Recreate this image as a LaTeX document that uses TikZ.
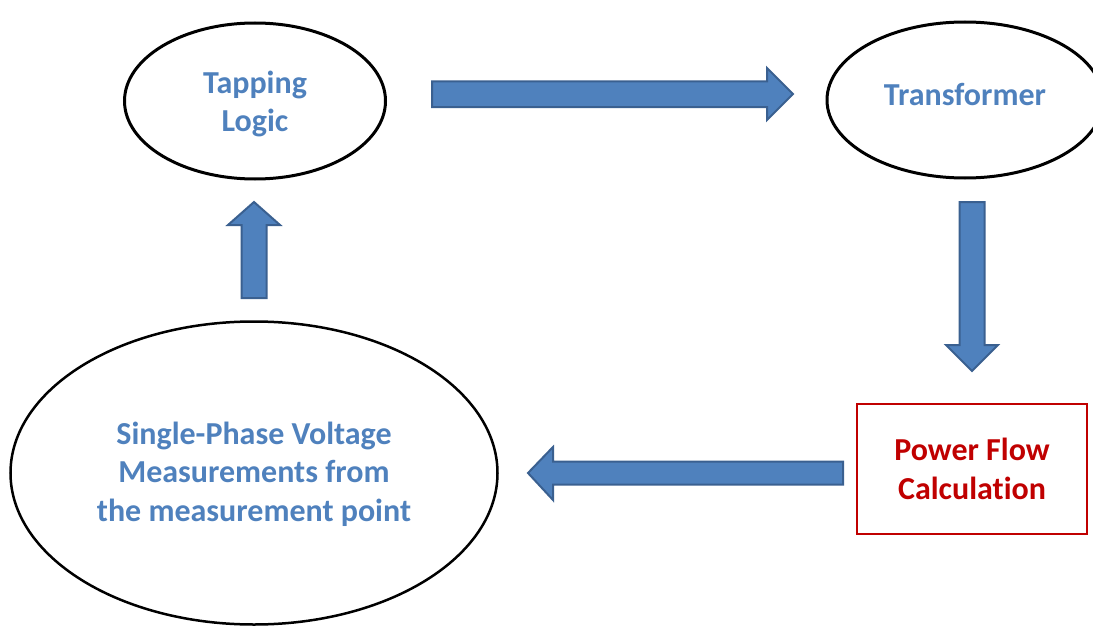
\documentclass[tikz,border=0pt]{standalone}
\usepackage{fontspec}
\setmainfont[Ligatures=NoCommon]{Carlito}
\usetikzlibrary{shapes.geometric}
\definecolor{officeblue}{HTML}{4F81BD}
\definecolor{arrowedge}{HTML}{3A6090}
\definecolor{darkred}{HTML}{C00000}
\tikzset{
  labeltext/.style={font=\bfseries\fontsize{32}{38.5}\selectfont, align=center, inner sep=0pt},
  stateoval/.style={ellipse, draw=black, line width=3pt, inner sep=0pt},
  bluetext/.style={labeltext, text=officeblue},
  calcbox/.style={rectangle, draw=darkred, line width=2pt, inner sep=0pt, labeltext, text=darkred},
  blockarrow/.style={fill=officeblue, draw=arrowedge, line width=2pt, line join=miter}
}
\begin{document}
\begin{tikzpicture}[x=1pt, y=-1pt]
  \clip (0,0) rectangle (1093,626);
  \useasboundingbox (0,0) rectangle (1093,626);

  % process stages
  \node[stateoval, minimum width=261pt, minimum height=156pt] (tap) at (255,101) {};
  \node[bluetext] (taptext) at ([yshift=-3pt]tap.center) {Tapping\\Logic};
  \node[stateoval, minimum width=276pt, minimum height=156pt] (trafo) at (965,100) {};
  \node[bluetext] (trafotext) at ([yshift=5pt]trafo.center) {Transformer};
  \node[calcbox, minimum width=230pt, minimum height=130pt] (pf) at (972,469) {Power Flow\\Calculation};
  \node[stateoval, line width=2.5pt, minimum width=487pt, minimum height=303pt] (meas) at (254,473) {};
  \node[bluetext] (meastext) at ([yshift=-1pt]meas.center)
    {Single-Phase Voltage\\Measurements from\\the measurement point};

  % block arrows closing the loop
  \coordinate (a1) at (432,94);
  \draw[blockarrow] (a1) ++(0,-12.5) -- ++(335,0) -- ++(0,-13.5) -- (793,94) -- (767,120)
    -- ++(0,-13) -- ++(-335,0) -- cycle;
  \coordinate (a2) at (972,202);
  \draw[blockarrow] (a2) ++(-12.5,0) -- ++(0,143) -- ++(-13.5,0) -- (972,371) -- (998,345)
    -- ++(-13.5,0) -- ++(0,-143) -- cycle;
  \coordinate (a3) at (843,473);
  \draw[blockarrow] (a3) ++(0,-11.5) -- ++(-290,0) -- ++(0,-14.5) -- (528,473) -- (553,500)
    -- ++(0,-15.5) -- ++(290,0) -- cycle;
  \coordinate (a4) at (254,298);
  \draw[blockarrow] (a4) ++(-12.5,0) -- ++(0,-73) -- ++(-13.5,0) -- (254,202) -- (280,225)
    -- ++(-13.5,0) -- ++(0,73) -- cycle;
\end{tikzpicture}
\end{document}
